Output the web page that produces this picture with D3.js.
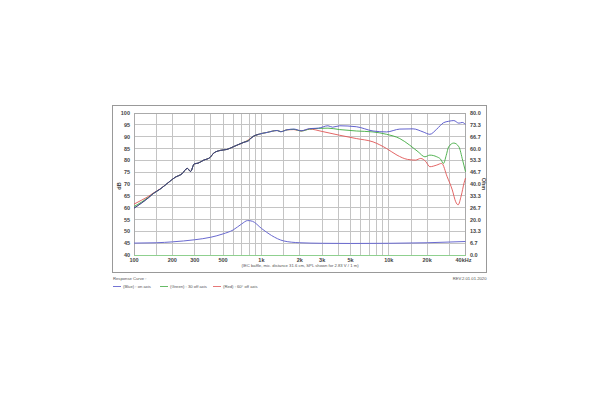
<!DOCTYPE html>
<html><head><meta charset="utf-8">
<script src="https://cdn.jsdelivr.net/npm/d3@7"></script>
<style>html,body{margin:0;padding:0;background:#fff}svg{display:block}text{font-family:"Liberation Sans",Arial,sans-serif}</style>
</head><body><svg id="c" width="600" height="400"></svg>
<script>
// ---- data ----
const xTicks = [100,200,300,500,1000,2000,3000,5000,10000,20000,40000];
const xTickLabels = ["100","200","300","500","1k","2k","3k","5k","10k","20k","40kHz"];
const gridFreqs = [100,150,200,300,400,500,600,700,800,900,1000,1500,2000,3000,4000,5000,6000,7000,8000,9000,10000,15000,20000,30000,40000];
const dbTicks = [40,45,50,55,60,65,70,75,80,85,90,95,100];
const ohmTicks = [0,6.7,13.3,20,26.7,33.3,40,46.7,53.3,60,66.7,73.3,80];
const ohmTickLabels = ["0.0","6.7","13.3","20.0","26.7","33.3","40.0","46.7","53.3","60.0","66.7","73.3","80.0"];

const lowFreq = [100,115,130,142,160,185,210,238,262,278,297,318,350,397,421,476,536,606,726,794,846,952,1110,1330,1420,1590,1800,2050,2390];
const blueLow = [59.8,62.0,64.2,66.0,67.8,70.5,72.8,74.3,76.6,75.3,78.5,78.8,80.0,81.3,83.0,84.2,84.6,85.8,87.6,88.3,89.8,91.0,91.8,92.6,92.1,92.9,93.2,92.5,93.4];
const greenLow = [60.5,62.4,64.4,66.0,67.8,70.5,72.8,74.3,76.6,75.3,78.5,78.8,80.0,81.3,83.0,84.2,84.6,85.8,87.6,88.5,89.8,91.0,91.8,92.6,92.1,92.9,93.1,92.4,93.2];
const redLow = [61.5,63.2,64.8,66.2,67.9,70.5,72.8,74.3,76.6,75.3,78.5,78.8,80.0,81.3,83.0,84.2,84.6,85.8,87.6,88.7,89.8,91.0,91.8,92.6,92.1,92.9,93.0,92.4,93.2];

const blueHighF = [2800,3330,3620,4110,5560,7520,9600,12200,15500,18600,21000,23800,26900,29500,32400,35500,37700,40000];
const blueHigh = [93.6,94.6,94.0,94.6,94.2,92.4,92.0,93.2,93.3,92.0,91.0,93.2,95.9,96.5,96.8,95.7,96.0,95.2];

const greenHighF = [2800,3330,4110,5560,7520,9600,12200,14600,17000,19200,21000,23800,25500,26900,28200,29500,32400,35500,38000,40000];
const greenHigh = [93.5,93.6,93.0,92.4,92.0,91.0,89.2,86.4,83.6,81.5,82.2,81.5,80.5,78.7,82.0,85.7,87.3,85.7,80.0,75.2];

const redHighF = [3000,4110,5560,7520,9600,11600,14000,16200,17800,19500,21000,23800,26000,28700,31500,33500,35000,37000,39000,40000];
const redHigh = [92.2,90.6,89.2,87.8,85.0,82.2,80.4,80.1,80.8,79.5,77.3,78.0,78.7,73.1,67.5,62.5,61.2,65.0,70.5,72.5];

const impF = [100,150,200,300,400,500,600,700,780,850,1000,1200,1500,2000,3000,5000,10000,20000,40000];
const impOhm = [6.7,6.9,7.4,8.6,10.0,11.9,14.1,17.5,19.4,19.0,15.0,11.0,7.9,6.9,6.6,6.5,6.6,6.9,7.6];

const legendNames = ["(Blue) : on axis","(Green) : 30 off axis","(Red) : 60\u00b0 off axis"];
const colors = ["#5050c8","#40aa40","#e05555"];

// ---- chart ----
const svg = d3.select("#c");
const L = 134, R = 465.5, T = 113, B = 255;
const x = d3.scaleLog().domain([100,40000]).range([L,R]);
const y = d3.scaleLinear().domain([40,100]).range([B,T]);
const yo = d3.scaleLinear().domain([0,80]).range([B,T]);

// outer frame
svg.append("rect").attr("x",112.5).attr("y",105.5).attr("width",374).attr("height",167)
  .attr("fill","none").attr("stroke","#999").attr("stroke-width",1);

// grid
const g = svg.append("g");
g.selectAll(".vg").data(gridFreqs).enter().append("line")
  .attr("x1",d=>x(d)).attr("x2",d=>x(d)).attr("y1",T).attr("y2",B)
  .attr("stroke","#c4c4c4").attr("stroke-width",1).attr("shape-rendering","crispEdges");
g.selectAll(".hg").data(dbTicks).enter().append("line")
  .attr("x1",L).attr("x2",R).attr("y1",d=>y(d)).attr("y2",d=>y(d))
  .attr("stroke","#c4c4c4").attr("stroke-width",1).attr("shape-rendering","crispEdges");
svg.append("rect").attr("x",L).attr("y",T).attr("width",R-L).attr("height",B-T)
  .attr("fill","none").attr("stroke","#aaa").attr("stroke-width",1).attr("shape-rendering","crispEdges");
// green base line
svg.append("line").attr("x1",L).attr("x2",R).attr("y1",y(40)).attr("y2",y(40))
  .attr("stroke","#8fd08f").attr("stroke-width",1).attr("shape-rendering","crispEdges");

// axes labels
const tf = {"font-size":"5.5px","font-weight":"bold","fill":"#444"};
function sty(sel){Object.entries(tf).forEach(([k,v])=>sel.style(k,v));return sel;}
sty(svg.selectAll(".yl").data(dbTicks).enter().append("text")
  .attr("x",L-4).attr("y",d=>y(d)+2).attr("text-anchor","end").text(d=>d));
sty(svg.selectAll(".ol").data(ohmTicks).enter().append("text")
  .attr("x",R+4.5).attr("y",d=>yo(d)+2).attr("text-anchor","start").text((d,i)=>ohmTickLabels[i]));
sty(svg.selectAll(".xl").data(xTicks).enter().append("text")
  .attr("x",(d,i)=>x(d)+(i===xTicks.length-1?-2:0)).attr("y",B+6.5).attr("text-anchor","middle").text((d,i)=>xTickLabels[i]));
sty(svg.append("text").attr("transform",`translate(${121},${186}) rotate(-90)`).attr("text-anchor","middle").text("dB"));
sty(svg.append("text").attr("transform",`translate(${482},${184}) rotate(90)`).attr("text-anchor","middle").text("Ohm"));

svg.append("text").attr("x",300).attr("y",266.5).attr("text-anchor","middle")
  .style("font-size","4.2px").style("fill","#555")
  .text("(IEC baffle, mic. distance 31.6 cm, SPL shown for 2.83 V / 1 m)");

// curves
const line = d3.line().x(d=>x(d[0])).y(d=>y(d[1])).curve(d3.curveMonotoneX);
const lineO = d3.line().x(d=>x(d[0])).y(d=>yo(d[1])).curve(d3.curveMonotoneX);
const zip = (a,b)=>a.map((v,i)=>[v,b[i]]);
const series = [
  zip(lowFreq,blueLow).concat(zip(blueHighF,blueHigh)),
  zip(lowFreq,greenLow).concat(zip(greenHighF,greenHigh)),
  zip(lowFreq,redLow).concat(zip(redHighF,redHigh))
];
[2,1,0].forEach(i=>{
  svg.append("path").attr("d",line(series[i])).attr("fill","none")
    .attr("stroke",colors[i]).attr("stroke-width",0.9);
});
// dark overlap at low end
svg.append("path").attr("d",line(zip(lowFreq.slice(0,22),blueLow.slice(0,22)))).attr("fill","none")
  .attr("stroke","#3a3a5a").attr("stroke-width",0.7);
svg.append("path").attr("d",lineO(zip(impF,impOhm))).attr("fill","none")
  .attr("stroke","#6a6ad0").attr("stroke-width",1);

// footer
svg.append("text").attr("x",113).attr("y",280).style("font-size","4.2px").style("fill","#555").text("Response Curve :");
svg.append("text").attr("x",486.5).attr("y",280).attr("text-anchor","end").style("font-size","4.2px").style("fill","#555").text("REV.2.01.01.2020");
const lx = [113,160,213];
lx.forEach((px,i)=>{
  svg.append("line").attr("x1",px).attr("x2",px+8).attr("y1",286.5).attr("y2",286.5)
    .attr("stroke",colors[i]).attr("stroke-width",0.8);
  svg.append("text").attr("x",px+10).attr("y",288).style("font-size","4.2px").style("fill","#555").text(legendNames[i]);
});
</script></body></html>
